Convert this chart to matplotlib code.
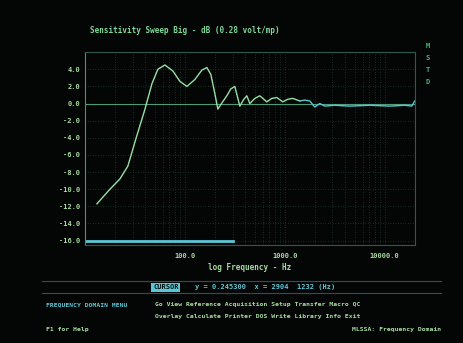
import matplotlib
matplotlib.use('Agg')
import matplotlib.pyplot as plt
from matplotlib.ticker import FixedLocator, NullFormatter

# measured response (Hz, dB), low/mid band
freq = [13.2, 17.8, 22.4, 26.9, 32.4, 39.8, 46.8, 53.7, 63.1, 75.9, 89.1, 104.7, 125.9,
        147.9, 166, 182, 200, 214, 234, 263, 288, 316, 355, 389, 417, 447, 501, 562, 661,
        741, 832, 955, 1072, 1202, 1413]
level = [-11.7, -10.0, -8.8, -7.3, -4.1, -0.7, 2.3, 4.0, 4.5, 3.8, 2.6, 2.0, 2.8,
         3.9, 4.2, 3.4, 1.1, -0.65, 0.05, 0.9, 1.7, 2.0, -0.3, 0.5, 0.9, 0.0, 0.6, 0.9, 0.2,
         0.6, 0.7, 0.2, 0.5, 0.6, 0.3]
# high band
freq_hi = [1413, 1585, 1778, 1995, 2239, 2512, 3162, 4467, 7079, 11220, 15849, 18620, 20000]
level_hi = [0.3, 0.4, 0.3, -0.4, 0.0, -0.3, -0.2, -0.3, -0.2, -0.3, -0.2, -0.3, 0.3]

ref_level = 0.0
floor_level = -16.0
floor_freq = [10, 300]

yticks = [4, 2, 0, -2, -4, -6, -8, -10, -12, -14, -16]
xticks = [100, 1000, 10000]
xticklabels = ['100.0', '1000.0', '10000.0']

title = 'Sensitivity Sweep Big - dB (0.28 volt/mp)'
cursor_text = 'y = 0.245300  x = 2904  1232 (Hz)'
menu1 = 'Go View Reference Acquisition Setup Transfer Macro QC'
menu2 = 'Overlay Calculate Printer DOS Write Library Info Exit'

BG = '#040606'
TXT = '#a8dca0'
CYAN = '#5cc6d6'
GRID = '#1c3a2c'
MONO = 'DejaVu Sans Mono'

fig = plt.figure(figsize=(4.64, 3.43), dpi=100, facecolor=BG)
ax = fig.add_axes([0.183, 0.286, 0.711, 0.562], facecolor=BG)

ax.set_xscale('log')
ax.set_xlim(10, 20000)
ax.set_ylim(-16.5, 6)

# dotted green grid
minor = [m * 10 ** e for e in range(1, 5) for m in range(2, 10) if m * 10 ** e < 20000]
ax.xaxis.set_minor_locator(FixedLocator(minor))
ax.xaxis.set_minor_formatter(NullFormatter())
ax.set_xticks(xticks)
ax.set_xticklabels(xticklabels)
ax.set_yticks(yticks)
ax.set_yticklabels(['%.1f' % v for v in yticks])
ax.grid(True, which='both', color=GRID, linestyle=(0, (1, 2)), linewidth=0.6)
ax.tick_params(which='both', length=0, colors=TXT, labelsize=5)
for lab in ax.get_xticklabels() + ax.get_yticklabels():
    lab.set_family(MONO)
    lab.set_fontweight('bold')
ax.tick_params(axis='x', pad=6)
for s in ax.spines.values():
    s.set_color('#2f5a48')
    s.set_linewidth(0.8)
ax.spines['left'].set_color('#5a8a78')

ax.axhline(ref_level, color='#4f9a78', linewidth=0.8)
ax.plot(floor_freq, [floor_level, floor_level], color=CYAN, linewidth=2)
ax.plot(freq, level, color='#96e0a4', linewidth=1)
ax.plot(freq_hi, level_hi, color=CYAN, linewidth=1)

ax.set_xlabel('log Frequency - Hz', color=TXT, fontsize=5.5, family=MONO,
              fontweight='bold', labelpad=3)
fig.text(0.195, 0.905, title, color='#7ed89a', fontsize=5.5, family=MONO, fontweight='bold')

# status indicators at right edge
for i, ch in enumerate(['M', 'S', 'T', 'D']):
    fig.text(0.918, 0.86 - i * 0.035, ch, color='#3fb87a', fontsize=5, family=MONO,
             fontweight='bold')

# cursor readout bar
for yy in (0.18, 0.145):
    fig.add_artist(plt.Line2D([0.09, 0.95], [yy, yy], color='#2a5060', linewidth=0.8))
fig.text(0.33, 0.162, 'CURSOR', color='#03110f', fontsize=5, family=MONO, fontweight='bold',
         va='center', bbox=dict(facecolor=CYAN, edgecolor='none', pad=1.2))
fig.text(0.42, 0.162, cursor_text, color=CYAN, fontsize=5, family=MONO, fontweight='bold',
         va='center')

# menu lines
fig.text(0.1, 0.112, 'FREQUENCY DOMAIN MENU', color=CYAN, fontsize=4.6, family=MONO,
         fontweight='bold', va='center')
fig.text(0.335, 0.112, menu1, color=TXT, fontsize=4.6, family=MONO, fontweight='bold',
         va='center')
fig.text(0.335, 0.076, menu2, color=TXT, fontsize=4.6, family=MONO, fontweight='bold',
         va='center')
fig.text(0.1, 0.038, 'F1 for Help', color=TXT, fontsize=4.6, family=MONO, fontweight='bold',
         va='center')
fig.text(0.95, 0.038, 'MLSSA: Frequency Domain', color=TXT, fontsize=4.6, family=MONO,
         fontweight='bold', va='center', ha='right')

plt.savefig('out.png', dpi=100, facecolor=BG)
